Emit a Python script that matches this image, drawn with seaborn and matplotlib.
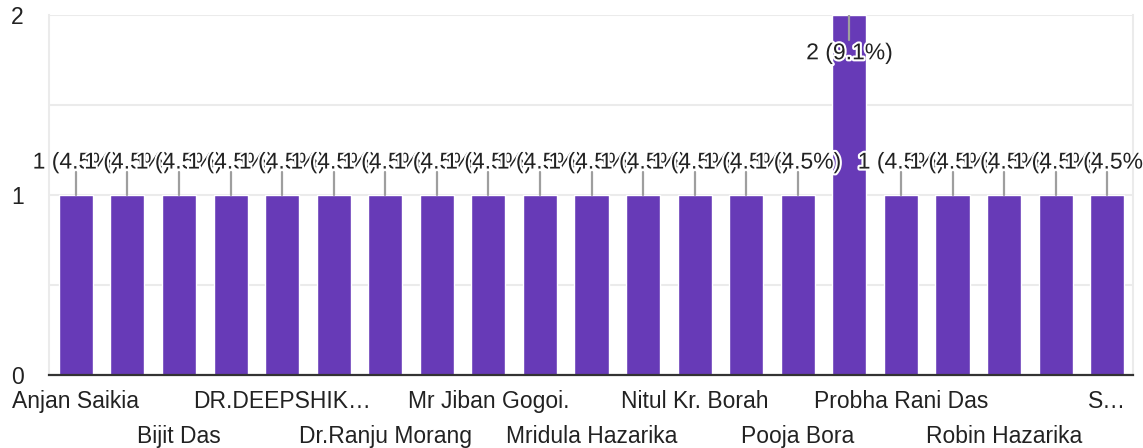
import matplotlib
matplotlib.use("Agg")
import matplotlib.pyplot as plt
import matplotlib.patheffects as pe
import numpy as np
import pandas as pd
import seaborn as sns

# responses per name (21 answers, alphabetical order)
counts = [1, 1, 1, 1, 1, 1, 1, 1, 1, 1, 1, 1, 1, 1, 1, 2, 1, 1, 1, 1, 1]
# names printed under every second bar
shown_names = ["Anjan Saikia", "Bijit Das", "DR.DEEPSHIK…", "Dr.Ranju Morang",
               "Mr Jiban Gogoi.", "Mridula Hazarika", "Nitul Kr. Borah",
               "Pooja Bora", "Probha Rani Das", "Robin Hazarika", "S…"]
y_ticks = [0, 1, 2]

total = sum(counts)
df = pd.DataFrame({"pos": np.arange(len(counts)), "count": counts})

sns.set_theme(style="white")
plt.rcParams["font.family"] = ["Liberation Sans", "DejaVu Sans"]

W, H = 1143, 448
FS = 16.5
fig = plt.figure(figsize=(W / 100, H / 100), dpi=100)
ax = fig.add_axes([49 / W, (H - 375) / H, (1133 - 49) / W, 360 / H])

bar_color = "#673ab7"
sns.barplot(data=df, x="pos", y="count", color=bar_color, width=0.66,
            saturation=1, ax=ax, zorder=3, native_scale=True)

ax.set_xlim(-0.52, len(counts) - 0.5)
ax.set_ylim(0, 2)

# horizontal grid every half unit
for g in [0.5, 1, 1.5, 2]:
    ax.axhline(g, color="#ebebeb", lw=1.5, zorder=1)

for side in ["left", "right", "top"]:
    ax.spines[side].set_color("#ebebeb")
    ax.spines[side].set_linewidth(1.5)
ax.spines["top"].set_visible(False)
ax.spines["bottom"].set_color("#333333")
ax.spines["bottom"].set_linewidth(1.6)
ax.spines["bottom"].set_zorder(5)

# value labels with leader lines
ymax = ax.get_ylim()[1]
halo = [pe.withStroke(linewidth=3, foreground="white")]
for i, v in enumerate(counts):
    label = f"{v} ({v / total * 100:.1f}%)"
    if v >= ymax:
        ax.plot([i, i], [v, v - 0.14], color="#9e9e9e", lw=1.6, zorder=4)
        ax.text(i, v - 0.21, label, ha="center", va="center", fontsize=FS,
                color="#222222", zorder=6, path_effects=halo)
    else:
        ax.plot([i, i], [v, v + 0.128], color="#9e9e9e", lw=1.6, zorder=4)
        ax.text(i, v + 0.183, label, ha="center", va="center", fontsize=FS,
                color="#222222", zorder=6, path_effects=halo)

# two staggered rows of names under the axis
label_pos = np.arange(0, len(counts), 2)
ax.set_xticks(label_pos[0::2], shown_names[0::2])
ax.set_xticks(label_pos[1::2], shown_names[1::2], minor=True)
ax.tick_params(axis="x", which="major", length=0, pad=10.5, labelsize=FS,
               labelcolor="#222222")
ax.tick_params(axis="x", which="minor", length=0, pad=36, labelsize=FS,
               labelcolor="#222222")
ax.set_yticks(y_ticks, [str(t) for t in y_ticks])
ax.tick_params(axis="y", length=0, pad=18, labelsize=FS, labelcolor="#222222")
ax.set_xlabel("")
ax.set_ylabel("")

fig.savefig("out.png", dpi=100, facecolor="white")
